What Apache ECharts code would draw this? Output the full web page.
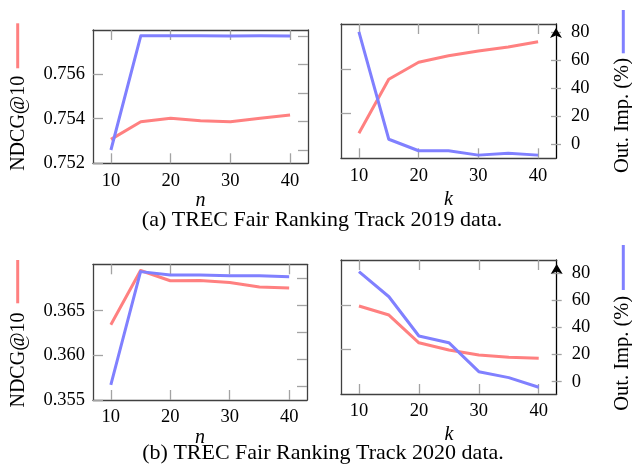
<!DOCTYPE html>
<html><head><meta charset="utf-8">
<script src="https://cdn.jsdelivr.net/npm/echarts@6/dist/echarts.min.js"></script>
<style>html,body{margin:0;padding:0;background:#fff}#c{width:632px;height:469px}</style>
</head><body><div id="c"></div>
<script>
// ---------- data ----------
const xValues = [10, 15, 20, 25, 30, 35, 40];
const xTicks = [10, 20, 30, 40];

// 2019, varying n
const ndcgByN2019 = [0.75307, 0.75386, 0.75402, 0.75391, 0.75386, 0.75402, 0.75416];
const outImpByN2019 = [0.0, 80.1, 80.1, 80.1, 80.0, 80.1, 80.0];
// 2019, varying k
const ndcgByK2019 = [0.75112, 0.75353, 0.75429, 0.75458, 0.75479, 0.75497, 0.75521];
const outImpByK2019 = [80.0, 3.6, -4.6, -4.6, -7.7, -6.4, -7.7];
// 2020, varying n
const ndcgByN2020 = [0.36343, 0.36951, 0.36836, 0.36839, 0.36817, 0.36765, 0.36754];
const outImpByN2020 = [1.3, 84.9, 82.4, 82.4, 81.9, 81.9, 81.2];
// 2020, varying k
const ndcgByK2020 = [0.36489, 0.36387, 0.36074, 0.35992, 0.35936, 0.35910, 0.35898];
const outImpByK2020 = [81.2, 62.7, 33.7, 28.8, 7.4, 3.0, -4.1];

// tick labels
const ndcgTicksN2019 = [0.752, 0.754, 0.756];
const ndcgTicksK2019 = [0.752, 0.754];
const ndcgTicksN2020 = [0.355, 0.360, 0.365];
const ndcgTicksK2020 = [0.360, 0.365];
const outImpTicks = [0, 20, 40, 60, 80];

// texts
const ndcgName = 'NDCG@10';
const outImpName = 'Out. Imp. (%)';
const captionA = '(a) TREC Fair Ranking Track 2019 data.';
const captionB = '(b) TREC Fair Ranking Track 2020 data.';

// ---------- styling / layout ----------
const FONT = '"Liberation Serif", "Times New Roman", serif';
const BOX = '#404040', TICK = '#a3a3a3', RED = '#ff8080', BLUE = '#8080ff';

const panels = [
  {grid:{left:93, top:30, width:215, height:133.3}, ndcg:ndcgByN2019, out:outImpByN2019,
   ndcgRange:[0.752, 0.75797], outRange:[-9.33, 84.2], ndcgTicks:ndcgTicksN2019,
   ndcgLabels:true, outLabels:false, xName:'n', nameGap:24.5},
  {grid:{left:341, top:24, width:215, height:134.3}, ndcg:ndcgByK2019, out:outImpByK2019,
   ndcgRange:[0.750, 0.756], outRange:[-9.96, 85.6], ndcgTicks:ndcgTicksK2019,
   ndcgLabels:false, outLabels:true, xName:'k', nameGap:31},
  {grid:{left:93, top:264.3, width:214, height:135.7}, ndcg:ndcgByN2020, out:outImpByN2020,
   ndcgRange:[0.355, 0.3702], outRange:[-9.8, 90.3], ndcgTicks:ndcgTicksN2020,
   ndcgLabels:true, outLabels:false, xName:'n', nameGap:22.5},
  {grid:{left:341, top:260, width:215.7, height:134}, ndcg:ndcgByK2020, out:outImpByK2020,
   ndcgRange:[0.35496, 0.37008], outRange:[-9.08, 89.8], ndcgTicks:ndcgTicksK2020,
   ndcgLabels:false, outLabels:true, xName:'k', nameGap:31}
];

const option = {
  animation:false, backgroundColor:'#fff', textStyle:{fontFamily:FONT},
  grid:[], xAxis:[], yAxis:[], series:[], graphic:[]
};

const boxLine = {show:true, onZero:false, lineStyle:{color:BOX, width:1.3}};
const tickStyle = {color:TICK, width:1.3};
const labelStyle = {color:'#000', fontFamily:FONT, fontSize:18.5};

panels.forEach((p, gi) => {
  option.grid.push(Object.assign({show:false, containLabel:false, outerBoundsMode:'none'}, p.grid));
  const xb = option.xAxis.length;
  option.xAxis.push({
    type:'value', gridIndex:gi, position:'bottom', min:7, max:43,
    axisLine:boxLine,
    axisTick:{show:true, inside:true, length:10, customValues:xTicks, lineStyle:tickStyle},
    axisLabel:Object.assign({show:true, customValues:xTicks, margin:8}, labelStyle),
    splitLine:{show:false},
    name:p.xName, nameLocation:'middle', nameGap:p.nameGap,
    nameTextStyle:{color:'#000', fontFamily:FONT, fontStyle:'italic', fontSize:20}
  });
  option.xAxis.push({
    type:'value', gridIndex:gi, position:'top', min:7, max:43,
    axisLine:boxLine,
    axisTick:{show:true, inside:true, length:10, customValues:xTicks, lineStyle:tickStyle},
    axisLabel:{show:false}, splitLine:{show:false}
  });
  const yl = option.yAxis.length;
  option.yAxis.push({
    type:'value', gridIndex:gi, position:'left', min:p.ndcgRange[0], max:p.ndcgRange[1],
    axisLine:boxLine,
    axisTick:{show:true, inside:true, length:10, customValues:p.ndcgTicks, lineStyle:tickStyle},
    axisLabel:Object.assign({show:p.ndcgLabels, customValues:p.ndcgTicks, margin:8,
      formatter:v => Number(v).toFixed(3)}, labelStyle),
    splitLine:{show:false}
  });
  const yr = option.yAxis.length;
  if (p.outLabels) {
    option.yAxis.push({
      type:'value', gridIndex:gi, position:'right', min:p.outRange[0], max:p.outRange[1],
      axisLine:{show:true, onZero:false, symbol:['none','arrow'], symbolSize:[9,10], symbolOffset:[0,-4],
        lineStyle:{color:'#000', width:1.3}},
      axisTick:{show:true, inside:false, length:5, customValues:outImpTicks, lineStyle:tickStyle},
      axisLabel:Object.assign({show:true, customValues:outImpTicks, margin:15,
        formatter:v => String(Math.round(v))}, labelStyle),
      splitLine:{show:false}
    });
    option.yAxis.push({
      type:'value', gridIndex:gi, position:'right', min:p.outRange[0], max:p.outRange[1],
      axisLine:{show:false},
      axisTick:{show:true, inside:true, length:5, customValues:outImpTicks, lineStyle:tickStyle},
      axisLabel:{show:false}, splitLine:{show:false}
    });
  } else {
    option.yAxis.push({
      type:'value', gridIndex:gi, position:'right', min:p.outRange[0], max:p.outRange[1],
      axisLine:boxLine,
      axisTick:{show:true, inside:true, length:10, customValues:outImpTicks, lineStyle:tickStyle},
      axisLabel:{show:false}, splitLine:{show:false}
    });
  }
  option.series.push({
    type:'line', name:ndcgName, xAxisIndex:xb, yAxisIndex:yl,
    data:xValues.map((x, i) => [x, p.ndcg[i]]),
    showSymbol:false, symbol:'none', silent:true, z:2,
    lineStyle:{color:RED, width:3, join:'round'}, itemStyle:{color:RED}
  });
  option.series.push({
    type:'line', name:outImpName, xAxisIndex:xb, yAxisIndex:yr,
    data:xValues.map((x, i) => [x, p.out[i]]),
    showSymbol:false, symbol:'none', silent:true, z:3,
    lineStyle:{color:BLUE, width:3, join:'round'}, itemStyle:{color:BLUE}
  });
});

// legend swatches + rotated labels, captions
function vText(text, x, y, size) {
  return {type:'text', x:x, y:y, rotation:Math.PI/2, silent:true,
    style:{text:text, font:size + 'px ' + FONT, fill:'#000',
      align:'center', verticalAlign:'middle', textAlign:'center', textVerticalAlign:'middle'}};
}
function swatch(x, y1, y2, color) {
  return {type:'line', silent:true, shape:{x1:x, y1:y1, x2:x, y2:y2},
    style:{stroke:color, lineWidth:3}};
}
function hText(text, x, y, size) {
  return {type:'text', x:x, y:y, silent:true,
    style:{text:text, font:size + 'px ' + FONT, fill:'#000',
      align:'center', verticalAlign:'middle', textAlign:'center', textVerticalAlign:'middle'}};
}
option.graphic = [
  swatch(17.7, 23.3, 68.3, RED), vText(ndcgName, 18.5, 123.3, 20),
  swatch(623.3, 10, 53.3, BLUE), vText(outImpName, 622.5, 115.5, 20.5),
  swatch(17.7, 260, 303.3, RED), vText(ndcgName, 18.5, 360, 20),
  swatch(623.3, 245, 290, BLUE), vText(outImpName, 622.5, 353.3, 20.5),
  hText(captionA, 322, 220.5, 22),
  hText(captionB, 323, 453, 22)
];

const chart = echarts.init(document.getElementById('c'), null, {renderer:'canvas'});
chart.setOption(option);
</script>
</body></html>
